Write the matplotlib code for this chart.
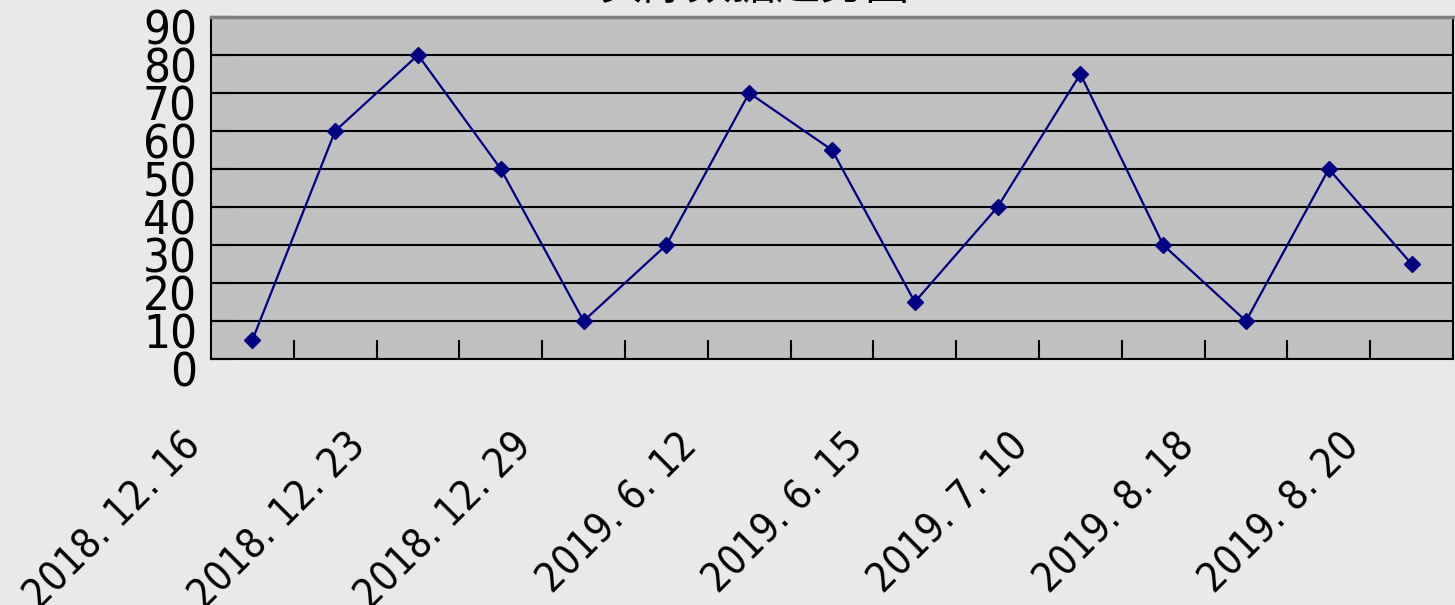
import numpy as np
import matplotlib.pyplot as plt
from matplotlib.transforms import ScaledTranslation

# chart data
values = [5, 60, 80, 50, 10, 30, 70, 55, 15, 40, 75, 30, 10, 50, 25]
shown_labels = ['2018. 12. 16', '2018. 12. 23', '2018. 12. 29', '2019. 6. 12',
                '2019. 6. 15', '2019. 7. 10', '2019. 8. 18', '2019. 8. 20']
yticks = list(range(0, 100, 10))
title = '实际数据趋势图'

plt.rcParams['font.family'] = ['DejaVu Sans Condensed', 'DejaVu Sans']
plt.rcParams['font.stretch'] = 'condensed'

fig = plt.figure(figsize=(14.55, 6.05), dpi=100, facecolor='#e9e9eb')
ax = fig.add_axes([211/1455, 1 - 359/605, 1242/1455, 342/605])
ax.set_facecolor('#c0c0c0')

x = np.arange(len(values))
ax.plot(x, values, color='#000080', lw=1.6, marker='D', ms=8.5, zorder=3)

ax.set_xlim(-0.5, len(values) - 0.5)
ax.set_ylim(0, 90)

# gridlines + ticks
ax.set_yticks(yticks)
ax.yaxis.grid(True, color='black', lw=1.5)
ax.set_axisbelow(True)
ax.tick_params(axis='y', direction='in', length=17, width=1.5, labelsize=34, pad=10)

ax.set_xticks(np.arange(0.5, len(values) - 0.5, 1.0))
ax.set_xticklabels([])
ax.tick_params(axis='x', which='major', direction='in', length=14, width=1.5)
ax.set_xticks(x[::2], minor=True)
ax.set_xticklabels(shown_labels, minor=True, rotation=45, ha='right', va='top',
                   rotation_mode='anchor')
ax.tick_params(axis='x', which='minor', length=0, labelsize=29, pad=0)

off = ScaledTranslation(-0.72, -0.67, fig.dpi_scale_trans)
for lab in ax.xaxis.get_minorticklabels():
    lab.set_transform(lab.get_transform() + off)
yoff = ScaledTranslation(0, -0.10, fig.dpi_scale_trans)
for lab in ax.yaxis.get_majorticklabels():
    lab.set_transform(lab.get_transform() + yoff)

for side in ['left', 'bottom', 'right']:
    ax.spines[side].set_color('black')
    ax.spines[side].set_linewidth(1.5)
ax.spines['top'].set_color('#808080')
ax.spines['top'].set_linewidth(2.5)

fig.text(755/1455, 1 - 9/605, title, ha='center', va='bottom', fontsize=32,
         family=['Noto Sans CJK SC', 'DejaVu Sans'], fontstretch='normal')

fig.savefig('out.png', dpi=100, facecolor=fig.get_facecolor())
